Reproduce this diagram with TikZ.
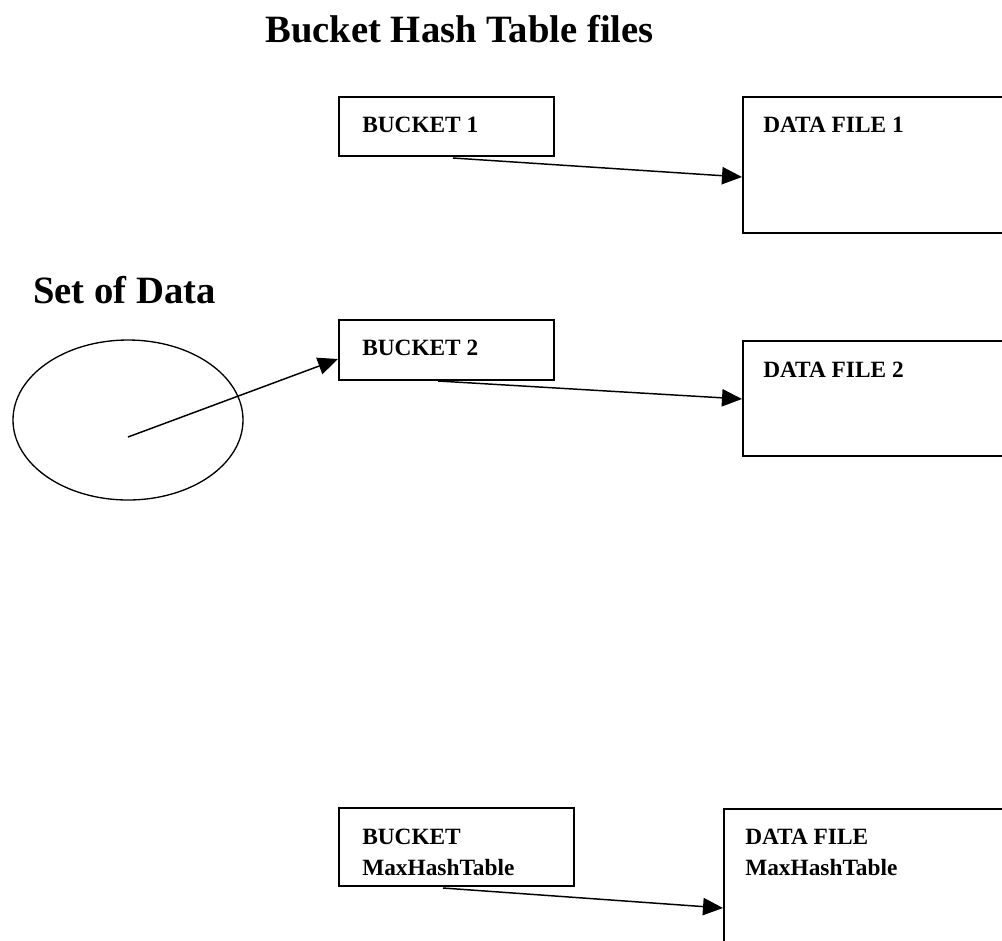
\documentclass[tikz,border=0pt]{standalone}
\usepackage{fontspec}
\setmainfont{Liberation Serif}
\usetikzlibrary{arrows.meta,calc,shapes.geometric}
\tikzset{
  box/.style={draw, line width=1.5pt, rectangle, inner sep=0pt, anchor=north west},
  boxtext/.style={font=\fontsize{17.5}{23}\selectfont\bfseries, anchor=base west, inner sep=0pt, align=left},
  heading/.style={font=\fontsize{29}{34}\selectfont\bfseries, anchor=base west, inner sep=0pt},
  arr/.style={line width=1.1pt, -{Triangle[length=15pt, width=13pt]}},
  blob/.style={draw, line width=1pt, ellipse, inner sep=0pt}
}
\begin{document}
\begin{tikzpicture}[x=0.75pt, y=-0.75pt]
\useasboundingbox (0,0) rectangle (1002,940);
\clip (0,0) rectangle (1002,940);
\fill[white] (0,0) rectangle (1002,940);

% headings
\node[heading] (title) at (265,42) {Bucket Hash Table files};
\node[heading] (setlbl) at (33,303) {Set of Data};

% set of data ellipse
\node[blob, minimum width=230*0.75pt, minimum height=160*0.75pt] (set) at (128,420) {};
\coordinate (setc) at (128,437);

% bucket boxes
\node[box, minimum width=215*0.75pt, minimum height=59*0.75pt] (b1) at (338,96) {};
\node[boxtext] (b1t) at (362,132) {BUCKET 1};
\node[box, minimum width=215*0.75pt, minimum height=60*0.75pt] (b2) at (338,319) {};
\node[boxtext] (b2t) at (362,355) {BUCKET 2};
\node[box, minimum width=235*0.75pt, minimum height=78*0.75pt] (bm) at (338,807) {};
\node[boxtext, anchor=north west] (bmt) at (362,829) {BUCKET\\MaxHashTable};

% data file boxes
\node[box, minimum width=280*0.75pt, minimum height=136*0.75pt] (d1) at (742,96) {};
\node[boxtext] (d1t) at (763,132) {DATA FILE 1};
\node[box, minimum width=280*0.75pt, minimum height=115*0.75pt] (d2) at (742,340) {};
\node[boxtext] (d2t) at (763,377) {DATA FILE 2};
\node[box, minimum width=300*0.75pt, minimum height=160*0.75pt] (dm) at (723,808) {};
\node[boxtext, anchor=north west] (dmt) at (745,829) {DATA FILE\\MaxHashTable};

% connectors
\draw[arr] ($(b1.south west)+(115,1)$) -- ($(d1.north west)+(0,81)$);
\draw[arr] ($(b2.south west)+(100,0)$) -- ($(d2.north west)+(0,59)$);
\draw[arr] ($(bm.south west)+(105,1)$) -- ($(dm.north west)+(0,100)$);
\draw[arr] (setc) -- ($(b2.north west)+(0,40)$);
\end{tikzpicture}
\end{document}
